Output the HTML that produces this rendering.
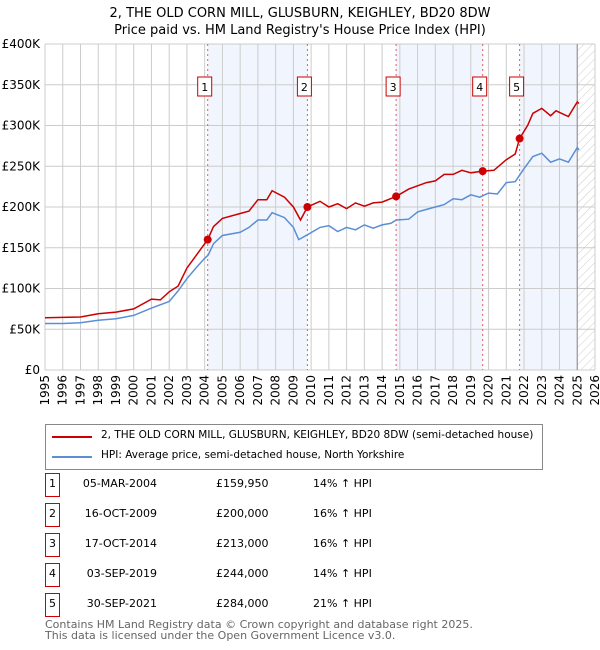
<!DOCTYPE html>
<html><head><meta charset="utf-8"><style>
body{margin:0;background:#fff;font-family:"Liberation Sans","DejaVu Sans",sans-serif;}
</style></head><body>
<div style="position:relative;width:600px;height:650px;overflow:hidden">
<svg id="chart" width="600" height="420" style="position:absolute;left:0;top:0" font-family="DejaVu Sans, Liberation Sans, sans-serif">
<defs><pattern id="hatch" width="6" height="6" patternUnits="userSpaceOnUse" patternTransform="rotate(45)"><line x1="0" y1="0" x2="0" y2="6" stroke="#ccc" stroke-width="1"/></pattern></defs>
<text x="300" y="17" text-anchor="middle" font-size="13">2, THE OLD CORN MILL, GLUSBURN, KEIGHLEY, BD20 8DW</text>
<text x="300" y="34" text-anchor="middle" font-size="13">Price paid vs. HM Land Registry's House Price Index (HPI)</text>
<g id="bands"></g><g id="grid"></g><g id="axes"></g><g id="series"></g><g id="marks"></g>
</svg>
<div style="position:absolute;left:45px;top:424px;width:496px;height:44px;border:1px solid #888;font-family:'DejaVu Sans',sans-serif;font-size:10.5px;white-space:nowrap">
<div style="position:absolute;left:6px;top:11px;width:40px;height:2px;background:#cc0000"></div>
<div style="position:absolute;left:55px;top:4px">2, THE OLD CORN MILL, GLUSBURN, KEIGHLEY, BD20 8DW (semi-detached house)</div>
<div style="position:absolute;left:6px;top:31px;width:40px;height:2px;background:#5a8fd6"></div>
<div style="position:absolute;left:55px;top:24px">HPI: Average price, semi-detached house, North Yorkshire</div>
</div>
<div id="table" style="font-family:'DejaVu Sans',sans-serif;font-size:11px"></div>
<div style="position:absolute;left:45px;top:619px;font-family:'DejaVu Sans',sans-serif;font-size:11px;color:#666;line-height:11px">Contains HM Land Registry data © Crown copyright and database right 2025.<br>This data is licensed under the Open Government Licence v3.0.</div>
</div>
<script>
const hpiYears=[1995,1996,1997,1998,1999,2000,2001,2002,2002.5,2003,2003.5,2004,2004.2,2004.5,2005,2006,2006.5,2007,2007.5,2007.8,2008.5,2009,2009.3,2009.8,2010.5,2011,2011.5,2012,2012.5,2013,2013.5,2014,2014.5,2014.8,2015.5,2016,2016.5,2017,2017.5,2018,2018.5,2019,2019.5,2020,2020.5,2021,2021.5,2022,2022.5,2023,2023.5,2024,2024.5,2025,2025.1];
const hpiValues=[57,57,58,61,63,67,76,84,97,112,125,137,141,155,165,169,175,184,184,193,187,175,160,166,175,177,170,175,172,178,174,178,180,184,185,194,197,200,203,210,209,215,212,217,216,230,231,247,262,266,255,259,255,273,270];
const priceYears=[1995,1997,1998,1999,2000,2001,2001.5,2002,2002.5,2003,2003.5,2004.17,2004.5,2005,2006,2006.5,2007,2007.5,2007.8,2008.5,2009,2009.4,2009.79,2010.5,2011,2011.5,2012,2012.5,2013,2013.5,2014,2014.79,2015.5,2016,2016.5,2017,2017.5,2018,2018.5,2019,2019.67,2020.3,2021,2021.5,2021.75,2022.2,2022.5,2023,2023.5,2023.8,2024.5,2025,2025.1];
const priceValues=[64,65,69,71,75,87,86,96,103,125,140,160,176,186,192,195,209,209,220,212,200,184,200,207,200,204,198,205,201,205,206,213,222,226,230,232,240,240,245,242,244,245,258,265,284,300,315,321,312,318,311,329,327];
const saleYears=[2004.17,2009.79,2014.79,2019.67,2021.75];
const saleValues=[159.95,200,213,244,284];
const saleLabels=["1","2","3","4","5"];
const saleDates=["05-MAR-2004","16-OCT-2009","17-OCT-2014","03-SEP-2019","30-SEP-2021"];
const salePrices=["£159,950","£200,000","£213,000","£244,000","£284,000"];
const saleHpi=["14% ↑ HPI","16% ↑ HPI","16% ↑ HPI","14% ↑ HPI","21% ↑ HPI"];
const yTicks=[0,50,100,150,200,250,300,350,400];
const yTickLabels=["£0","£50K","£100K","£150K","£200K","£250K","£300K","£350K","£400K"];
const xTicks=[1995,1996,1997,1998,1999,2000,2001,2002,2003,2004,2005,2006,2007,2008,2009,2010,2011,2012,2013,2014,2015,2016,2017,2018,2019,2020,2021,2022,2023,2024,2025,2026];

const NS="http://www.w3.org/2000/svg";
const X0=45,X1=595,Y0=370,Y1=44;
const xs=y=>X0+(y-1995)/(2026-1995)*(X1-X0);
const ys=v=>Y0-v/400*(Y0-Y1);
function mk(p,tag,at){const e=document.createElementNS(NS,tag);for(const k in at)e.setAttribute(k,at[k]);p.appendChild(e);return e;}
const bands=document.getElementById('bands'),grid=document.getElementById('grid'),axes=document.getElementById('axes'),series=document.getElementById('series'),marks=document.getElementById('marks');
mk(bands,'rect',{x:X0,y:Y1,width:X1-X0,height:Y0-Y1,fill:'#fff'});
const bandEdges=[saleYears[0],saleYears[1],saleYears[2],saleYears[3],saleYears[4],2025];
for(let i=0;i<bandEdges.length-1;i+=2){
 const r=mk(bands,'rect',{x:xs(bandEdges[i]),y:Y1,width:xs(bandEdges[i+1])-xs(bandEdges[i]),height:Y0-Y1,fill:'#eef3fc',opacity:0.8});
 
 
}
const h=mk(bands,'rect',{x:xs(2025),y:Y1,width:X1-xs(2025),height:Y0-Y1,fill:'url(#hatch)'});


yTicks.forEach((v,i)=>{
 const l=mk(grid,'line',{x1:X0,x2:X1,y1:ys(v),y2:ys(v),stroke:'#ccc','stroke-width':1});
 
 
 const t=mk(axes,'text',{x:40,y:ys(v)+4,'text-anchor':'end','font-size':12});
 
 
 t.textContent=yTickLabels[i];
});
xTicks.forEach(y=>{
 const l=mk(grid,'line',{x1:xs(y),x2:xs(y),y1:Y1,y2:Y0,stroke:'#ccc','stroke-width':1});
 
 
 const t=mk(axes,'text',{x:0,y:0,'text-anchor':'end','font-size':12,transform:`translate(${xs(y)+4},375) rotate(-90)`});
 
 
 t.textContent=y;
});
const nl=mk(grid,'line',{x1:xs(2025),x2:xs(2025),y1:Y1,y2:Y0,stroke:'#999','stroke-width':1.2});


function path(xa,va){return xa.map((x,i)=>(i?'L':'M')+xs(x).toFixed(1)+','+ys(va[i]).toFixed(1)).join('');}
const hp=mk(series,'path',{d:path(hpiYears,hpiValues),fill:'none',stroke:'#5a8fd6','stroke-width':1.5});


const pp=mk(series,'path',{d:path(priceYears,priceValues),fill:'none',stroke:'#cc0000','stroke-width':1.5});


saleYears.forEach((y,i)=>{
 const l=mk(marks,'line',{x1:xs(y),x2:xs(y),y1:Y1,y2:Y0,stroke:'#e06060','stroke-width':1,'stroke-dasharray':'2,3'});
 
 
 const c=mk(marks,'circle',{cx:xs(y),cy:ys(saleValues[i]),r:4,fill:'#cc0000'});
 
 
 const b=mk(marks,'rect',{x:xs(y)-10,y:77,width:14,height:19,fill:'#fff',stroke:'#cc0000'});
 
 
 const t=mk(marks,'text',{x:xs(y)-3,y:91,'text-anchor':'middle','font-size':11});
 
 
 t.textContent=saleLabels[i];
});
const tb=document.getElementById('table');
saleLabels.forEach((s,i)=>{
 const top=473+i*30;
 const row=document.createElement('div');
 
 
 row.style.cssText=`position:absolute;left:0;top:${top}px;width:600px;height:24px`;
 row.innerHTML=`<div style="position:absolute;left:45px;top:0;width:13px;height:22px;border:1px solid #cc0000;text-align:center;line-height:20px">${s}</div>
<div style="position:absolute;left:70px;width:87px;top:4px;text-align:right">${saleDates[i]}</div>
<div style="position:absolute;left:216px;top:4px">${salePrices[i]}</div>
<div style="position:absolute;left:313px;top:4px">${saleHpi[i]}</div>`;
 tb.appendChild(row);
});
</script>
</body></html>
